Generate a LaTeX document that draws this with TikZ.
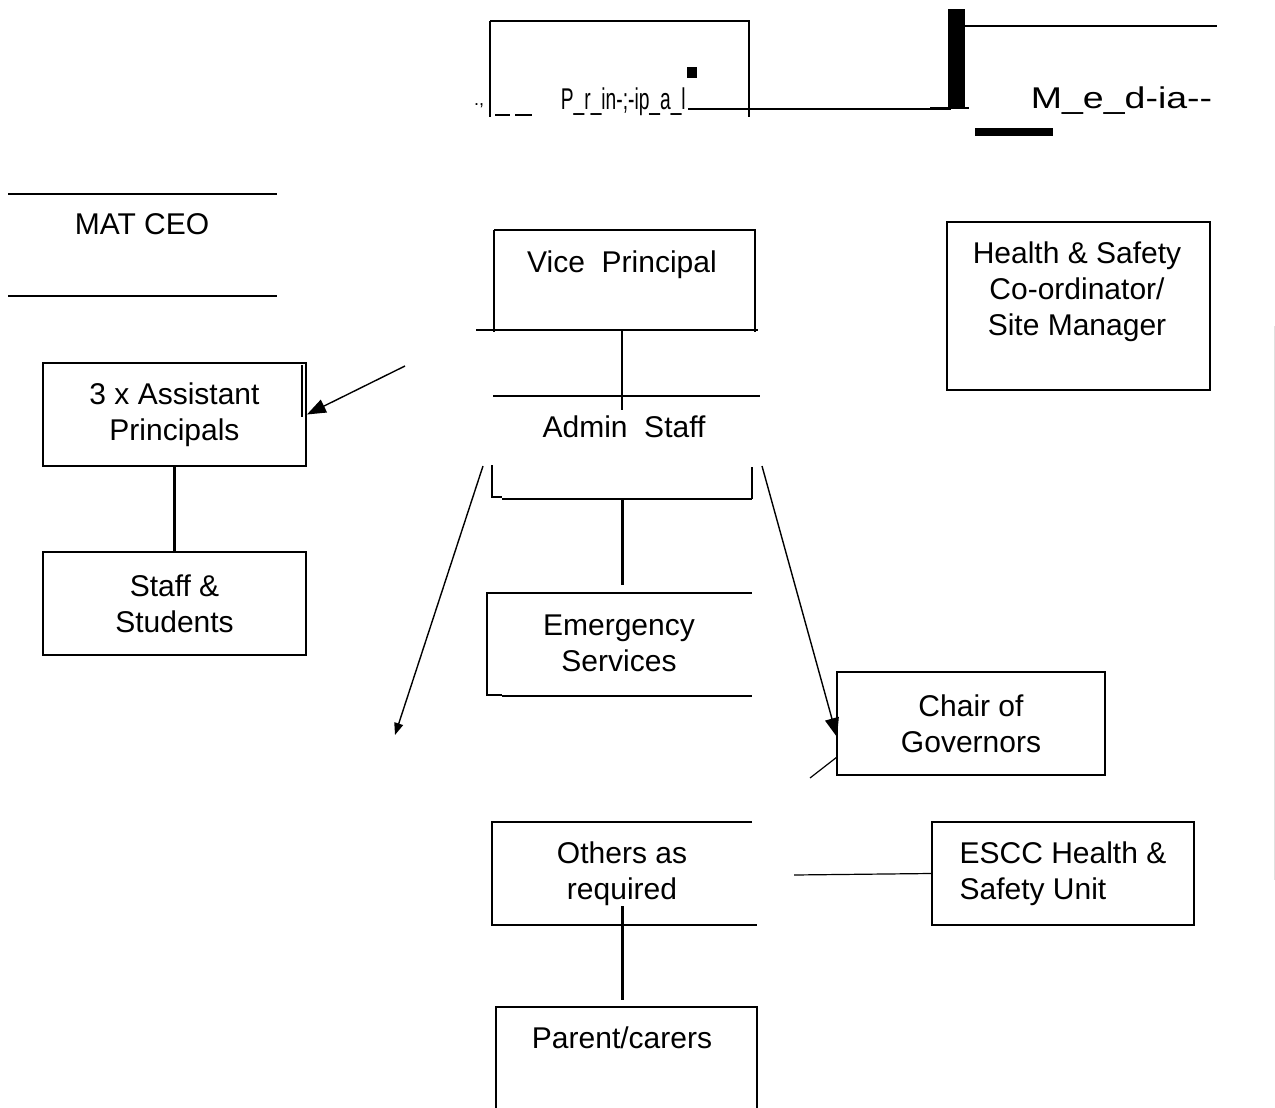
\documentclass[tikz,border=0pt]{standalone}
\usepackage{fontspec}
\setmainfont{Liberation Sans}
\usetikzlibrary{arrows.meta}

\begin{document}
\begin{tikzpicture}[x=1pt, y=-1pt, line width=1.8pt,
  every node/.style={font=\fontsize{30}{36}\selectfont, align=center, inner sep=0pt},
  box/.style={draw, line width=1.8pt, minimum width=263pt, minimum height=103pt},
  thin/.style={line width=1.2pt},
  thick/.style={line width=3pt},
  arr/.style={-{Triangle[length=19pt,width=14pt]}, line width=1.4pt}]
            \useasboundingbox (0,0) rectangle (1275,1108);

            % Nodes
            \node (pr) [anchor=base west] at (560,110) {\scalebox{0.64}[1]{P\_r\_in-;-ip\_a\_l}};
            \node (md) [anchor=base west] at (1030,108) {\scalebox{1.25}[1]{M\_e\_d-ia-{}-}};
            \node (mat) at (142,224) {MAT CEO};
            \node (vp) at (622,265) {Vice\ \ Principal};
            \node (ad) at (624,427) {Admin\ \ Staff};
            \node[box] (ap) at (174.5,414.5) {3 x Assistant\\Principals};
            \node[box] (ss) at (174.5,603.5) {Staff \&\\Students};
            \node[box, minimum height=168pt] (hs) at (1078.5,306) {};
            \node (hstext) at (1077,292) {Health \& Safety\\Co-ordinator/\\Site Manager};
            \node (es) at (619,643) {Emergency\\Services};
            \node[box, minimum width=268pt] (ch) at (971,723.5) {Chair of\\Governors};
            \node (ot) at (622,873.5) {Others as\\required};
            \node[box, minimum width=262pt, align=left] (escc) at (1063,873.5) {ESCC Health \&\\Safety Unit};
            \node (pc) at (622,1038) {Parent/carers};
            \node[font=\fontsize{18}{18}\selectfont] (dots) at (479,106) {.,};

            \coordinate (apin) at (405,366);
            \coordinate (lout) at (483,466);
            \coordinate (lend) at (395,735);
            \coordinate (rout) at (762,466);
            \coordinate (rend) at (837,737);
            \coordinate (vpdown) at (622,330);
            \coordinate (adup) at (622,410);
            \coordinate (addown) at (622,499);
            \coordinate (esup) at (622,585);
            \coordinate (pcup) at (622,1000);
            \coordinate (esccin) at (794,875);

            % Principal and Media
            \draw (490,21) -- (750,21);
            \draw (490,21) -- (490,117);
            \draw (749,21) -- (749,117);
            \draw (495,115) -- (510,115);
            \draw (515,115) -- (532,115);
            \fill (687,67) rectangle (697,78);
            \draw (688,109) -- (951,109);
            \fill (948,9) rectangle (965,108);
            \draw (930,108) -- (969,108);
            \draw (965,26) -- (1217,26);
            \fill (975,128) rectangle (1053,136);

            % MAT CEO
            \draw (8,194) -- (277,194);
            \draw (8,296) -- (277,296);

            % Vice Principal
            \draw (494,230) -- (756,230);
            \draw (494,230) -- (494,332);
            \draw (755,230) -- (755,332);
            \draw (476,330) -- (758,330);

            % Admin Staff
            \draw (493,396) -- (760,396);
            \draw (492,465) -- (492,497) -- (502,497);
            \draw (502,499) -- (752,499);
            \draw (752,467) -- (752,499);

            % Emergency Services
            \draw (502,593) -- (487,593) -- (487,695) -- (502,695);
            \draw (502,593) -- (752,593);
            \draw (502,696) -- (752,696);

            % Others as required
            \draw (752,822) -- (492,822) -- (492,925) -- (757,925);

            % Parent/carers
            \draw (496,1108) -- (496,1007) -- (757,1007) -- (757,1108);

            % extra strokes
            \draw[thin] (302,365) -- (302,417);
            \draw[thin] (810,778) -- (837,757);
            \draw[line width=1pt, black!12] (1274,326) -- (1274,880);

            % Connectors
            \draw[thin] (vpdown) -- (adup);
            \draw[thick] (addown) -- (esup);
            \draw[thick] (ap) -- (ss);
            \draw[thick] (ot.south) -- (pcup);
            \draw[thin] (esccin) -- (escc.west);
            \draw[arr] (apin) -- (ap.east);
            \draw[arr, -{Triangle[length=12pt,width=9pt]}] (lout) -- (lend);
            \draw[arr] (rout) -- (rend);
          \end{tikzpicture}
\end{document}
